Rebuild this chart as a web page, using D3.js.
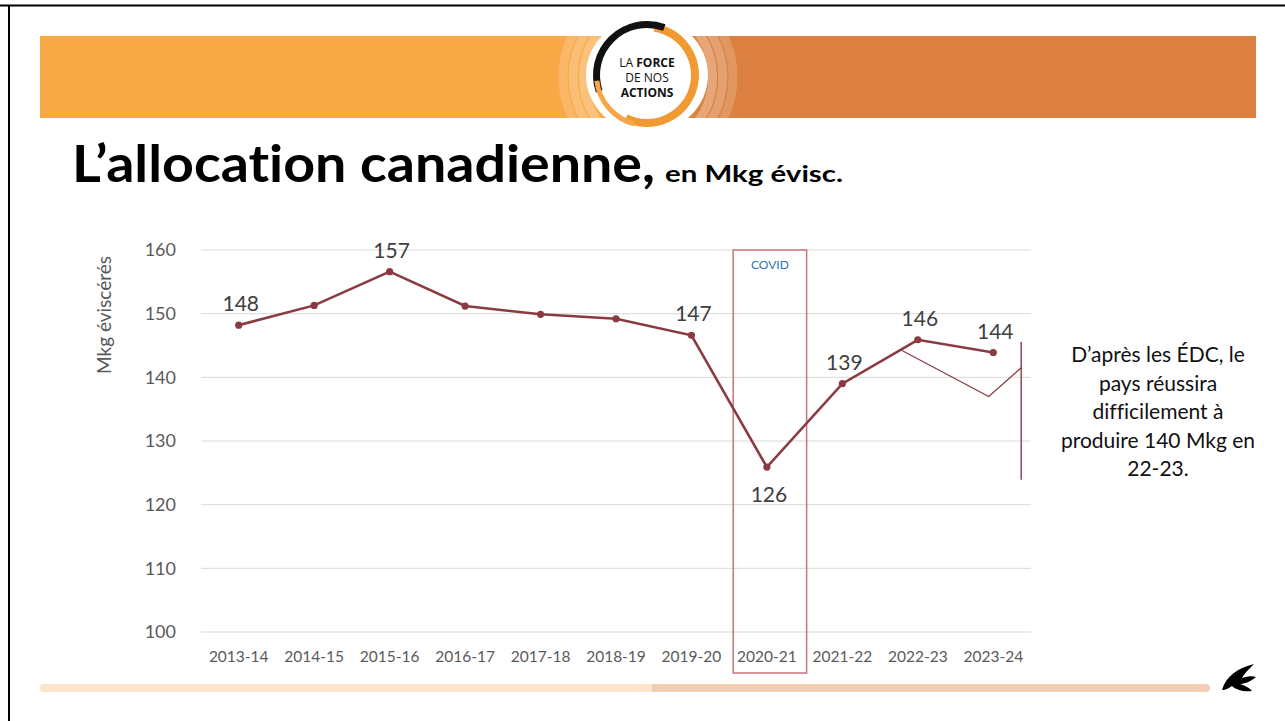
<!DOCTYPE html>
<html>
<head>
<meta charset="utf-8">
<script src="https://cdn.jsdelivr.net/npm/d3@7"></script>
<style>
  body { margin: 0; background: #fff; }
  svg { display: block; }
  svg text { font-variant-ligatures: none; font-feature-settings: "liga" 0; }
</style>
</head>
<body>
<script>
// L'allocation canadienne, en Mkg évisc.
var categories = ["2013-14", "2014-15", "2015-16", "2016-17", "2017-18", "2018-19",
                  "2019-20", "2020-21", "2021-22", "2022-23", "2023-24"];
var values = [148.2, 151.3, 156.6, 151.2, 149.9, 149.2, 146.6, 125.9, 139.0, 145.9, 143.9];
var showLabel = [true, false, true, false, false, false, true, true, true, true, true];
var labelBelow = "2020-21";
var yTicks = [100, 110, 120, 130, 140, 150, 160];

// thin hand-drawn forecast line (x in category-index units)
var forecastIdx = [9.29, 10.44, 10.87];
var forecastVal = [144.2, 137.0, 141.5];
var markerIdx = 10.87, markerRange = [145.6, 123.9];

var covidCat = "2020-21";
var noteLines = ["D\u2019après les ÉDC, le", "pays réussira", "difficilement à",
                 "produire 140 Mkg en", "22-23."];

var W = 1285, H = 721;
var lineColor = "#8a3b42";
var font = "Lato, 'Open Sans', sans-serif";

var svg = d3.select("body").append("svg")
    .attr("width", W)
    .attr("height", H);

// page frame
svg.append("line").attr("x1", 0).attr("x2", W).attr("y1", 5.5).attr("y2", 5.5)
    .attr("stroke", "#000").attr("stroke-width", 2);
svg.append("line").attr("x1", 9).attr("x2", 9).attr("y1", 5).attr("y2", H)
    .attr("stroke", "#000").attr("stroke-width", 2);

// header banner
var banner = svg.append("g");
banner.append("rect").attr("x", 40).attr("y", 36).attr("width", 620).attr("height", 82).attr("fill", "#f9a846");
banner.append("rect").attr("x", 650).attr("y", 36).attr("width", 606).attr("height", 82).attr("fill", "#db8040");
var clip = svg.append("clipPath").attr("id", "bclip");
clip.append("rect").attr("x", 40).attr("y", 36).attr("width", 1216).attr("height", 82);
var sw = banner.append("g").attr("clip-path", "url(#bclip)");
[[648, 77, 100, 90, 0.18], [648, 77, 88, 80, 0.25], [648, 77, 76, 70, 0.3]].forEach(function(e) {
    sw.append("ellipse").attr("cx", e[0]).attr("cy", e[1]).attr("rx", e[2] * 0.85).attr("ry", e[3])
        .attr("fill", "none").attr("stroke", "#fff").attr("stroke-opacity", e[4]).attr("stroke-width", 9);
});

// logo
var logo = svg.append("g").attr("transform", "translate(647,75)");
logo.append("ellipse").attr("rx", 61).attr("ry", 58).attr("fill", "#fff");
var arc = d3.arc();
logo.append("path")
    .attr("d", arc({innerRadius: 44, outerRadius: 52, startAngle: 0.15, endAngle: 3.6}))
    .attr("fill", "#f19a34");
logo.append("path")
    .attr("d", arc({innerRadius: 47, outerRadius: 54, startAngle: -1.9, endAngle: 0.35}))
    .attr("fill", "#111");
logo.append("path")
    .attr("d", arc({innerRadius: 48, outerRadius: 53, startAngle: 3.4, endAngle: 4.6}))
    .attr("fill", "#f5a748");
var lt = logo.append("text").attr("text-anchor", "middle").attr("font-family", "'Open Sans', sans-serif")
    .attr("font-size", 12).attr("fill", "#111");
var l1 = lt.append("tspan").attr("x", 0).attr("y", -8);
l1.append("tspan").text("LA ");
l1.append("tspan").attr("font-weight", 700).text("FORCE");
lt.append("tspan").attr("x", 0).attr("y", 7).text("DE NOS");
lt.append("tspan").attr("x", 0).attr("y", 22).attr("font-weight", 700).text("ACTIONS");

// title
svg.append("text").attr("x", 72).attr("y", 182)
    .attr("font-family", font).attr("font-weight", 700)
    .attr("font-size", 52).attr("textLength", 583).attr("lengthAdjust", "spacingAndGlyphs")
    .attr("fill", "#000").text("L\u2019allocation canadienne,");
svg.append("text").attr("x", 665).attr("y", 182)
    .attr("font-family", font).attr("font-weight", 700)
    .attr("font-size", 22).attr("textLength", 178).attr("lengthAdjust", "spacingAndGlyphs")
    .attr("fill", "#000").text("en Mkg évisc.");

// scales
var x = d3.scaleBand().domain(categories).range([201, 1031]);
var xi = d3.scaleLinear().domain([0, categories.length]).range([201, 1031]);
var y = d3.scaleLinear().domain([100, 160]).range([632, 250]);

// gridlines
svg.append("g").selectAll("line").data(yTicks).enter().append("line")
    .attr("x1", 201).attr("x2", 1031)
    .attr("y1", function(d) { return y(d); }).attr("y2", function(d) { return y(d); })
    .attr("stroke", "#d9d9d9").attr("stroke-width", 1);

// y axis
var yAxis = svg.append("g").attr("transform", "translate(190,0)")
    .call(d3.axisLeft(y).tickValues(yTicks).tickSize(0).tickPadding(14));
yAxis.select(".domain").remove();
yAxis.selectAll("text").attr("font-family", font).attr("font-size", 18).attr("fill", "#595959");

// x axis
var xAxis = svg.append("g").attr("transform", "translate(0,632)")
    .call(d3.axisBottom(x).tickSize(0).tickPadding(19));
xAxis.select(".domain").remove();
xAxis.selectAll("text").attr("font-family", font).attr("font-size", 15.5).attr("fill", "#595959");

// y axis title
svg.append("text").attr("transform", "translate(111,315) rotate(-90)")
    .attr("text-anchor", "middle").attr("font-family", font).attr("font-size", 19)
    .attr("fill", "#595959").text("Mkg éviscérés");

// COVID box
svg.append("rect")
    .attr("x", x(covidCat) + 4).attr("y", y(160))
    .attr("width", x.bandwidth() - 2).attr("height", 673 - y(160))
    .attr("fill", "none").attr("stroke", "#c8767d").attr("stroke-width", 1.5);
svg.append("text").attr("x", x(covidCat) + 4 + (x.bandwidth() - 2) / 2).attr("y", 269)
    .attr("text-anchor", "middle").attr("font-family", font).attr("font-size", 12)
    .attr("fill", "#2e75b6").text("COVID");

// thin forecast line + marker
svg.append("path")
    .datum(forecastIdx.map(function(d, i) { return [xi(d), y(forecastVal[i])]; }))
    .attr("d", d3.line())
    .attr("fill", "none").attr("stroke", lineColor).attr("stroke-width", 1.2);
svg.append("line")
    .attr("x1", xi(markerIdx)).attr("x2", xi(markerIdx))
    .attr("y1", y(markerRange[0])).attr("y2", y(markerRange[1]))
    .attr("stroke", lineColor).attr("stroke-width", 1.4);

// main series
var pts = categories.map(function(c, i) {
    return { cat: c, v: values[i], lab: showLabel[i], x: x(c) + x.bandwidth() / 2, y: y(values[i]) };
});
svg.append("path").datum(pts)
    .attr("d", d3.line().x(function(d) { return d.x; }).y(function(d) { return d.y; }))
    .attr("fill", "none").attr("stroke", lineColor).attr("stroke-width", 2.6);
svg.append("g").selectAll("circle").data(pts).enter().append("circle")
    .attr("cx", function(d) { return d.x; }).attr("cy", function(d) { return d.y; })
    .attr("r", 3.6).attr("fill", lineColor);
svg.append("g").selectAll("text").data(pts.filter(function(d) { return d.lab; })).enter().append("text")
    .attr("x", function(d) { return d.x + 2; })
    .attr("y", function(d) { return d.cat === labelBelow ? d.y + 35 : d.y - 14; })
    .attr("text-anchor", "middle").attr("font-family", font).attr("font-size", 21)
    .attr("fill", "#404040")
    .text(function(d) { return d3.format(".0f")(d.v); });

// note
svg.append("g").selectAll("text").data(noteLines).enter().append("text")
    .attr("x", 1158).attr("y", function(d, i) { return 362 + i * 28.6; })
    .attr("text-anchor", "middle").attr("font-family", font).attr("font-size", 21)
    .attr("fill", "#111").text(function(d) { return d; });

// bottom bar
svg.append("rect").attr("x", 40).attr("y", 684).attr("width", 1170).attr("height", 8).attr("rx", 4)
    .attr("fill", "#f1cdb3");
svg.append("rect").attr("x", 40).attr("y", 684).attr("width", 612).attr("height", 8).attr("rx", 4)
    .attr("fill", "#fde5cc");
svg.append("rect").attr("x", 600).attr("y", 684).attr("width", 52).attr("height", 8)
    .attr("fill", "#fde5cc");

// leaf mark
svg.append("path")
    .attr("d", "M1222,690 C1226,676 1238,668 1254,664 C1248,670 1244,674 1242,678 C1248,676 1253,676 1256,677 C1250,682 1244,684 1240,684 C1246,686 1250,688 1252,691 C1244,692 1236,690 1232,686 C1229,688 1226,690 1222,690 Z")
    .attr("fill", "#000");
</script>
</body>
</html>
